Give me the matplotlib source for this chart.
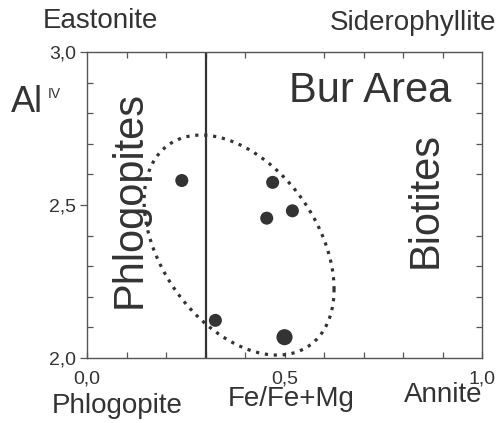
import numpy as np
import matplotlib
matplotlib.use("Agg")
import matplotlib.pyplot as plt
from matplotlib.ticker import MultipleLocator

plt.rcParams["font.family"] = ["Liberation Sans", "DejaVu Sans"]

# samples from the Bur area
fe_ratio = [0.24, 0.47, 0.52, 0.455, 0.325, 0.50]
al_iv = [2.58, 2.574, 2.481, 2.457, 2.123, 2.068]
dot_size = [88, 88, 88, 88, 88, 135]

# phlogopite / biotite boundary
boundary = 0.3

# grouping ellipse (centre, half extents, x-y coupling) in data units
ell_center = (0.385, 2.369)
ell_half_x = 0.2405
ell_half_y = 0.3595
ell_xy = -0.03475

ink = "#333333"
W, H = 499, 423


def fx(px):
    return px / W


def fy(py):
    return 1 - py / H


fig = plt.figure(figsize=(W / 100, H / 100), dpi=100)
ax = fig.add_axes([fx(87), fy(358), fx(482) - fx(87), fy(52) - fy(358)])

ax.set_xlim(0, 1)
ax.set_ylim(2, 3)

ax.axvline(boundary, color=ink, lw=1.6, zorder=2)
ax.scatter(fe_ratio, al_iv, s=dot_size, color=ink, zorder=4, linewidths=0)

# dotted ellipse
t = np.linspace(0, 2 * np.pi, 400)
k = ell_xy / ell_half_x
ex = ell_center[0] + ell_half_x * np.cos(t)
ey = ell_center[1] + k * np.cos(t) + np.sqrt(ell_half_y ** 2 - k ** 2) * np.sin(t)
ax.plot(ex, ey, color=ink, lw=2.3, linestyle=(0, (1, 1.8)),
        dash_capstyle="butt", zorder=3)

for sp in ax.spines.values():
    sp.set_color("#555555")
    sp.set_linewidth(1.0)

ax.xaxis.set_major_locator(MultipleLocator(0.5))
ax.yaxis.set_major_locator(MultipleLocator(0.5))
ax.xaxis.set_minor_locator(MultipleLocator(0.1))
ax.yaxis.set_minor_locator(MultipleLocator(0.1))
ax.xaxis.set_major_formatter(lambda v, p: f"{v:.1f}".replace(".", ","))
ax.yaxis.set_major_formatter(lambda v, p: f"{v:.1f}".replace(".", ","))

ax.tick_params(which="minor", direction="in", length=4.5, width=0.9,
               color="#555555", top=True, right=True, bottom=True, left=True)
ax.tick_params(axis="y", which="major", direction="out", length=5, width=0.9,
               color="#555555", pad=3, labelsize=14, labelcolor=ink)
ax.tick_params(axis="x", which="major", direction="in", length=4.5, width=0.9,
               color="#555555", pad=9, labelsize=14, labelcolor=ink)

# labels around the plot
fig.text(fx(43), fy(28), "Eastonite", fontsize=20, color=ink,
         ha="left", va="baseline")
fig.text(fx(496), fy(30), "Siderophyllite", fontsize=20, color=ink,
         ha="right", va="baseline")
fig.text(fx(52), fy(413), "Phlogopite", fontsize=20, color=ink,
         ha="left", va="baseline")
fig.text(fx(291), fy(406), "Fe/Fe+Mg", fontsize=20, color=ink,
         ha="center", va="baseline")
fig.text(fx(482), fy(402), "Annite", fontsize=20, color=ink,
         ha="right", va="baseline")
fig.text(fx(11), fy(112), "Al", fontsize=26, color=ink,
         ha="left", va="baseline")
fig.text(fx(48), fy(87), "IV", fontsize=10, color=ink,
         ha="left", va="top")

# field names inside the plot
fig.text(fx(289), fy(102), "Bur Area", fontsize=30, color=ink,
         ha="left", va="baseline")
fig.text(fx(130), fy(199), "Phlogopites", fontsize=30, color=ink,
         rotation=90, ha="center", va="center")
fig.text(fx(426), fy(200), "Biotites", fontsize=30, color=ink,
         rotation=90, ha="center", va="center")

fig.savefig("out.png", dpi=100)
